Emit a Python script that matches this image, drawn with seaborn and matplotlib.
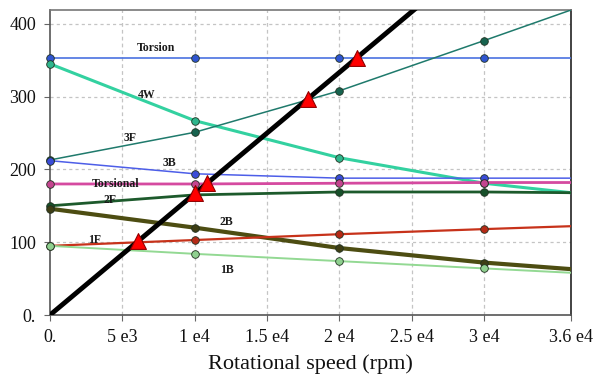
import matplotlib
matplotlib.use("Agg")
import matplotlib.pyplot as plt
import seaborn as sns
import pandas as pd

sns.set_theme(style="white")
plt.rcParams['font.family'] = ['Liberation Serif', 'DejaVu Serif']

# ---- data ----
speeds = [0, 10000, 20000, 30000, 36000]
torsion = [353, 353, 353, 353, 353]
mode_4w = [345, 267, 216, 181, 168]
mode_3f = [213, 251, 308, 377, 419]
mode_3b = [212, 194, 188, 188, 188]
torsional = [180, 180, 181, 182, 182]
mode_2f = [150, 165, 169, 169, 168]
mode_2b = [146, 120, 92, 72, 63]
mode_1f = [95, 103, 111, 118, 122]
mode_1b = [95, 84, 74, 64, 58]

excit_x = [0, 36000]
excit_y = [0, 600]

cross_x = [6100, 10000, 10850, 17800, 21200]
cross_y = [102, 167, 181, 297, 353]

xticks = [0, 5000, 10000, 15000, 20000, 25000, 30000, 36000]
xtick_labels = ["0.", "5 e3", "1 e4", "1.5 e4", "2 e4", "2.5 e4", "3 e4", "3.6 e4"]
yticks = [0, 100, 200, 300, 400]
ytick_labels = ["0.", "100", "200", "300", "400"]

series = [
    # name, values, line colour, width, marker colour, label pos
    ("Torsion", torsion, "#4a72e0", 1.2, "#2f55d0", (7300, 367)),
    ("4W", mode_4w, "#33d1a0", 2.2, "#2fb58c", (6700, 302)),
    ("3F", mode_3f, "#1f7a6c", 1.1, "#17634f", (5500, 243)),
    ("3B", mode_3b, "#4d5ee8", 1.1, "#3a4cd8", (8250, 209)),
    ("Torsional", torsional, "#d54aa0", 2.0, "#c4458f", (4500, 180)),
    ("2F", mode_2f, "#1d5a2c", 2.0, "#17502a", (4150, 158)),
    ("2B", mode_2b, "#4d4d12", 3.0, "#3e3e14", (12200, 128)),
    ("1F", mode_1f, "#c7321a", 1.6, "#b52a16", (3100, 103)),
    ("1B", mode_1b, "#93d993", 1.4, "#8fd08f", (12200, 62)),
]

fig = plt.figure(figsize=(6.08, 3.89), dpi=100)
ax = fig.add_axes([50/608, 74/389, 521/608, 305/389])

for name, vals, col, lw, mcol, pos in series:
    df = pd.DataFrame({"x": speeds, "y": vals})
    sns.lineplot(data=df, x="x", y="y", ax=ax, color=col, linewidth=lw, zorder=3)
    sns.scatterplot(data=df.iloc[:4], x="x", y="y", ax=ax, color=mcol, s=30,
                    edgecolor="#203020", linewidth=0.6, zorder=5, clip_on=False)
    ax.text(pos[0], pos[1], name, fontsize=8.5, fontweight="bold", ha="center",
            va="center", color="#1a1a1a", zorder=6)

df_ex = pd.DataFrame({"x": excit_x, "y": excit_y})
sns.lineplot(data=df_ex, x="x", y="y", ax=ax, color="black", linewidth=3.5, zorder=6)

df_cr = pd.DataFrame({"x": cross_x, "y": cross_y})
sns.scatterplot(data=df_cr, x="x", y="y", ax=ax, marker="^", color="#ff0000",
                s=130, edgecolor="#900000", linewidth=0.8, zorder=7)

ax.set_xlim(0, 36000)
ax.set_ylim(0, 419)
ax.set_xticks(xticks)
ax.set_xticklabels(xtick_labels, fontsize=13, color="#111111")
ax.set_yticks(yticks)
ax.set_yticklabels(ytick_labels, fontsize=13, color="#111111")
ax.tick_params(axis="both", direction="out", length=4, width=0.8, color="#666666",
               pad=6, left=True, bottom=True)

for xv in xticks[1:-1]:
    ax.axvline(xv, color="#c4c4c4", linestyle=(0, (3, 2.5)), linewidth=0.9, zorder=1)
for yv in yticks[1:]:
    ax.axhline(yv, color="#c4c4c4", linestyle=(0, (2.5, 2.5)), linewidth=0.9, zorder=1)

ax.set_xlabel("Rotational speed (rpm)", fontsize=16, labelpad=6, color="#111111")
ax.set_ylabel("")

for side, col in [("left", "#555555"), ("bottom", "#555555"), ("top", "#777777"), ("right", "#222222")]:
    ax.spines[side].set_visible(True)
    ax.spines[side].set_color(col)
    ax.spines[side].set_linewidth(1.2)

fig.savefig("out.png", dpi=100)
